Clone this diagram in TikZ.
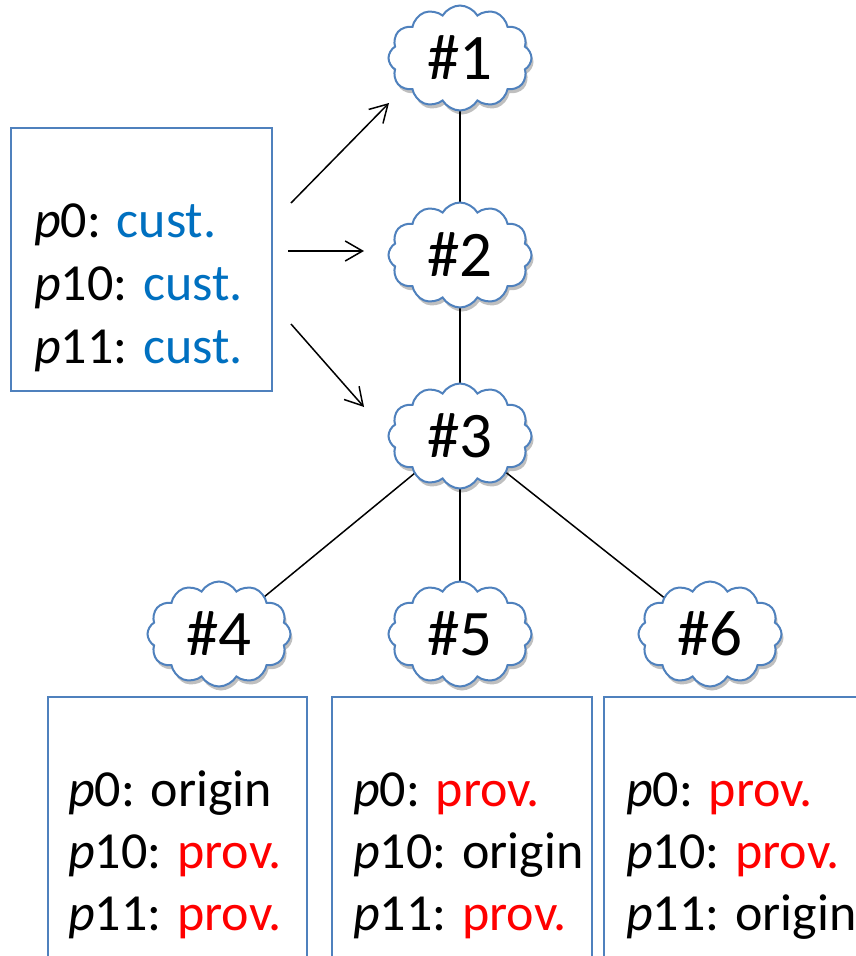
\documentclass[tikz,border=0pt]{standalone}
\usepackage{fontspec}
\setmainfont{Carlito}
\usetikzlibrary{shapes.symbols,arrows.meta,shadows,backgrounds}
\definecolor{custblue}{RGB}{0,112,192}
\definecolor{edgeblue}{RGB}{79,129,189}
\definecolor{provred}{RGB}{255,0,0}
\newcommand{\cu}{\textcolor{custblue}{cust.}}
\newcommand{\pv}{\textcolor{provred}{prov.}}
\tikzset{
  infobox/.style={draw=edgeblue, line width=1.5pt, fill=white, rectangle, anchor=north west, inner sep=0pt},
  lbl/.style={anchor=base west, inner sep=0pt, font=\fontsize{52}{63}\selectfont},
  as/.style={cloud, cloud puffs=12, cloud puff arc=120, cloud ignores aspect,
    draw=edgeblue, line width=2pt, fill=white, minimum width=143, minimum height=105,
    inner sep=0pt, font=\fontsize{65}{70}\selectfont,
    drop shadow={shadow xshift=2pt, shadow yshift=-4pt, opacity=0.25, fill=black}},
  link/.style={draw=black, line width=1.5pt},
  arr/.style={draw=black, line width=1.5pt, -{Straight Barb[angle=60:20pt, line width=1.5pt]}}
}
\begin{document}
\begin{tikzpicture}[x=1pt,y=-1pt]
\useasboundingbox (0,0) rectangle (856,956);
\clip (0,0) rectangle (856,956);
% top-left box
\node[infobox, minimum width=261, minimum height=263] (tl) at (10,127) {};
\node[lbl] (tl1) at (34,237) {\textit{p}0: \cu};
\node[lbl] (tl2) at (34,300) {\textit{p}10: \cu};
\node[lbl] (tl3) at (34,363) {\textit{p}11: \cu};
% clouds
\node[as] (c1) at (460,58) {\raisebox{-2pt}{\#1}};
\node[as] (c2) at (460,255) {\raisebox{-2pt}{\#2}};
\node[as] (c3) at (460,436) {\raisebox{-2pt}{\#3}};
\node[as] (c4) at (219,634) {\raisebox{-2pt}{\#4}};
\node[as] (c5) at (460,634) {\raisebox{-2pt}{\#5}};
\node[as] (c6) at (710,634) {\raisebox{-2pt}{\#6}};
\begin{scope}[on background layer]
\draw[link] (c1.center) -- (c2.center);
\draw[link] (c2.center) -- (c3.center);
\draw[link] (c3.center) -- (c5.center);
\draw[link] (c3.center) -- (c4.center);
\draw[link] (c3.center) -- (c6.center);
\end{scope}
% arrows
\coordinate (a1s) at (291,203);
\coordinate (a1e) at (389,103);
\coordinate (a2s) at (288,251);
\coordinate (a2e) at (364,251);
\coordinate (a3s) at (291,324);
\coordinate (a3e) at (364,407);
\draw[arr] (a1s) -- (a1e);
\draw[arr] (a2s) -- (a2e);
\draw[arr] (a3s) -- (a3e);
% bottom boxes
\node[infobox, minimum width=259, minimum height=300] (b1) at (47,696) {};
\node[infobox, minimum width=260, minimum height=300] (b2) at (331,696) {};
\node[infobox, minimum width=300, minimum height=300] (b3) at (603,696) {};
\node[lbl] (b1a) at (68,806) {\textit{p}0: origin};
\node[lbl] (b1b) at (68,868) {\textit{p}10: \pv};
\node[lbl] (b1c) at (68,930) {\textit{p}11: \pv};
\node[lbl] (b2a) at (353,806) {\textit{p}0: \pv};
\node[lbl] (b2b) at (353,868) {\textit{p}10: origin};
\node[lbl] (b2c) at (353,930) {\textit{p}11: \pv};
\node[lbl] (b3a) at (626,806) {\textit{p}0: \pv};
\node[lbl] (b3b) at (626,868) {\textit{p}10: \pv};
\node[lbl] (b3c) at (626,930) {\textit{p}11: origin};
\end{tikzpicture}
\end{document}
